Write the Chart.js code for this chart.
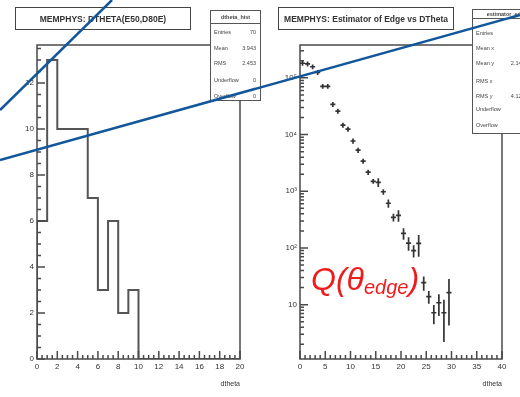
<!DOCTYPE html>
<html>
<head>
<meta charset="utf-8">
<script src="https://cdn.jsdelivr.net/npm/chart.js@4.4.0/dist/chart.umd.min.js"></script>
<style>
  html, body { margin: 0; padding: 0; background: #fff; }
  #page { position: relative; width: 520px; height: 397px; overflow: hidden; background: #fff;
          font-family: "Liberation Sans", Arial, sans-serif; }
  .soft { filter: blur(0.45px); }
  .pad { position: absolute; top: 0; width: 260px; height: 397px; }
  .pad canvas { display: block; }
  .titlebox { position: absolute; border: 1.5px solid #444; background: #fff; box-sizing: border-box;
              font-weight: bold; font-size: 8.5px; color: #333; display: flex; align-items: center;
              justify-content: center; white-space: nowrap; }
  .stats { position: absolute; border: 1.5px solid #555; background: #fff; box-sizing: border-box;
           font-size: 5.5px; color: #444; overflow: hidden; }
  .stats .head { position: absolute; left: 0; right: 0; top: 0; border-bottom: 1.5px solid #555;
                 text-align: center; font-weight: bold; }
  .stats .row { position: absolute; left: 3px; right: 4px; line-height: 6px; }
  .stats .row span:last-child { position: absolute; right: 0; }
  #overlay { position: absolute; left: 0; top: 0; }
</style>
</head>
<body>
<div id="page">
  <div class="pad soft" style="left:0"><canvas id="histPad" width="260" height="397"></canvas></div>
  <div class="pad soft" style="left:260px"><canvas id="estPad" width="260" height="397"></canvas></div>

  <div class="titlebox soft" style="left:15px;top:7px;width:176px;height:23px;">MEMPHYS: DTHETA(E50,D80E)</div>
  <div class="titlebox soft" style="left:278px;top:7px;width:176px;height:23px;">MEMPHYS: Estimator of Edge vs DTheta</div>

  <div class="stats soft" id="histStats" style="left:210px;top:10px;width:51px;height:91px;"></div>
  <div class="stats soft" id="estStats" style="left:472px;top:9px;width:70px;height:125px;"></div>

  <svg id="overlay" width="520" height="397">
    <line x1="0" y1="110" x2="112" y2="0" stroke="#12579b" stroke-width="2.5"/>
    <line x1="0" y1="160" x2="520" y2="15" stroke="#12579b" stroke-width="2.5"/>
    <text x="311" y="290" font-family="Liberation Sans, Arial, sans-serif" font-style="italic"
          font-size="32" fill="#ee1c1c">Q(θ<tspan font-size="20" dy="4">edge</tspan><tspan dy="-4">)</tspan></text>
  </svg>
</div>

<script>
// ---- DTHETA histogram (20 bins of width 1) ----
const histBinEdges = [0, 1, 2, 3, 4, 5, 6, 7, 8, 9, 10, 11, 12, 13, 14, 15, 16, 17, 18, 19];
const histCounts   = [6, 13, 10, 10, 10, 7, 3, 6, 2, 3, 0, 0, 0, 0, 0, 0, 0, 0, 0, 0];
const histXTicks   = [0, 2, 4, 6, 8, 10, 12, 14, 16, 18, 20];
const histYTicks   = [0, 2, 4, 6, 8, 10, 12];
const histStats    = [["Entries", "70"], ["Mean", "3.943"], ["RMS", "2.453"], ["Underflow", "0"], ["Overflow", "0"]];

// ---- Estimator of edges vs dtheta (bin centres, values, errors) ----
const estBinCenters = [0.5, 1.5, 2.5, 3.5, 4.5, 5.5, 6.5, 7.5, 8.5, 9.5,
                       10.5, 11.5, 12.5, 13.5, 14.5, 15.5, 16.5, 17.5, 18.5, 19.5,
                       20.5, 21.5, 22.5, 23.5, 24.5, 25.5, 26.5, 27.5, 28.5, 29.5];
const estValues = [181000, 177000, 157000, 125000, 71000, 71000, 34000, 26000, 14700, 12500,
                   7700, 5300, 3400, 2170, 1500, 1440, 980, 614, 347, 376,
                   181, 122, 90, 120, 24.5, 13.9, 7.2, 10.8, 7.2, 16.3];
const estErrors = [18000, 17500, 15500, 12500, 7000, 7000, 3400, 2600, 1500, 1250,
                   800, 550, 350, 230, 150, 250, 110, 100, 55, 85,
                   42, 33, 22, 50, 7, 3.5, 2.7, 4.5, 5, 12];
const estXTicks = [0, 5, 10, 15, 20, 25, 30, 35, 40];
const estYTicks = [10, 100, 1000, 10000, 100000];
const estStats  = [["Entries", "30"], ["Mean x", "6.732"], ["Mean y", "2.143e+04"], ["RMS x", "5.914"],
                   ["RMS y", "4.127e+04"], ["Underflow", "0"], ["Overflow", "0"]];

const FONT = "'Liberation Sans', Arial, sans-serif";
const INK = '#4a4a4a';

// Frame around the plot area plus inward-pointing tick marks on the bottom and left axes
const rootFrame = {
  id: 'rootFrame',
  afterDatasetsDraw(chart, args, o) {
    const { ctx, chartArea: a, scales: { x, y } } = chart;
    ctx.save();
    ctx.strokeStyle = INK;
    ctx.lineWidth = 1.5;
    ctx.strokeRect(a.left, a.top, a.right - a.left, a.bottom - a.top);
    ctx.beginPath();
    const tick = (axis, v, len) => {
      if (axis === 'x') {
        const px = x.getPixelForValue(v);
        ctx.moveTo(px, a.bottom); ctx.lineTo(px, a.bottom - len);
      } else {
        const py = y.getPixelForValue(v);
        ctx.moveTo(a.left, py); ctx.lineTo(a.left + len, py);
      }
    };
    o.xMajor.forEach(v => tick('x', v, 8));
    o.xMinor.forEach(v => tick('x', v, 4));
    o.yMajor.forEach(v => tick('y', v, 8));
    o.yMinor.forEach(v => tick('y', v, 4));
    ctx.stroke();
    ctx.restore();
  }
};

// Horizontal (bin width) and vertical (error) bars for each estimator point
const errorBars = {
  id: 'errorBars',
  afterDatasetsDraw(chart) {
    const { ctx, scales: { x, y } } = chart;
    ctx.save();
    ctx.strokeStyle = '#333';
    ctx.lineWidth = 1.7;
    ctx.beginPath();
    estBinCenters.forEach((c, i) => {
      const v = estValues[i], e = estErrors[i];
      const py = y.getPixelForValue(v);
      ctx.moveTo(x.getPixelForValue(c - 0.5), py);
      ctx.lineTo(x.getPixelForValue(c + 0.5), py);
      const px = x.getPixelForValue(c);
      ctx.moveTo(px, y.getPixelForValue(v + e));
      ctx.lineTo(px, y.getPixelForValue(Math.max(v - e, y.min)));
    });
    ctx.stroke();
    ctx.restore();
  }
};

function range(a, b, s) { const out = []; for (let v = a; v <= b + 1e-9; v += s) out.push(+v.toFixed(6)); return out; }

function axisCommon(tickValues, fmt) {
  return {
    grid: { display: false, drawTicks: false },
    border: { display: false },
    afterBuildTicks: s => { s.ticks = tickValues.map(v => ({ value: v })); },
    ticks: { autoSkip: false, maxRotation: 0, color: '#333', font: { family: FONT, size: 8 },
             callback: fmt }
  };
}

// Step outline of the histogram: left bin edges with a closing point at the right edge
const histPoints = [{ x: histBinEdges[0], y: 0 }];
histBinEdges.forEach((e, i) => histPoints.push({ x: e, y: histCounts[i] }));
histPoints.push({ x: histBinEdges[histBinEdges.length - 1] + 1, y: histCounts[histCounts.length - 1] });

new Chart(document.getElementById('histPad'), {
  type: 'line',
  data: { datasets: [{ data: histPoints, stepped: true, borderColor: '#555', borderWidth: 2,
                       pointRadius: 0, fill: false }] },
  options: {
    responsive: false, animation: false,
    layout: { padding: { left: 0, right: 20, top: 45, bottom: 0 } },
    plugins: { legend: { display: false }, tooltip: { enabled: false },
      rootFrame: { xMajor: histXTicks, xMinor: range(0, 20, 0.5), yMajor: histYTicks, yMinor: range(0, 13.5, 0.5) } },
    scales: {
      x: Object.assign(axisCommon(histXTicks, v => String(v)), {
        type: 'linear', min: 0, max: 20,
        afterFit: s => { s.height = 38; },
        title: { display: true, text: 'dtheta', align: 'end', color: '#333',
                 font: { family: FONT, size: 7 }, padding: { top: 0, bottom: 9 } }
      }),
      y: Object.assign(axisCommon(histYTicks, v => String(v)), {
        type: 'linear', min: 0, max: 13.65,
        afterFit: s => { s.width = 37; }
      })
    }
  },
  plugins: [rootFrame]
});

// Log-scale minor tick positions 2..9 x each decade
const logMinor = [];
[1, 10, 100, 1000, 10000, 100000].forEach(d => { for (let k = 2; k <= 9; k++) logMinor.push(k * d); });
const sup = { 1: '', 2: '²', 3: '³', 4: '⁴', 5: '⁵' };

new Chart(document.getElementById('estPad'), {
  type: 'scatter',
  data: { datasets: [{ data: estBinCenters.map((c, i) => ({ x: c, y: estValues[i] })),
                       pointRadius: 0, borderColor: '#333' }] },
  options: {
    responsive: false, animation: false,
    layout: { padding: { left: 0, right: 18, top: 45, bottom: 0 } },
    plugins: { legend: { display: false }, tooltip: { enabled: false },
      rootFrame: { xMajor: estXTicks, xMinor: range(0, 40, 1), yMajor: estYTicks,
                   yMinor: logMinor.filter(v => v > 1.1 && v < 380000) } },
    scales: {
      x: Object.assign(axisCommon(estXTicks, v => String(v)), {
        type: 'linear', min: 0, max: 40,
        afterFit: s => { s.height = 38; },
        title: { display: true, text: 'dtheta', align: 'end', color: '#333',
                 font: { family: FONT, size: 7 }, padding: { top: 0, bottom: 9 } }
      }),
      y: Object.assign(axisCommon(estYTicks, v => '10' + sup[Math.round(Math.log10(v))]), {
        type: 'logarithmic', min: 1.1, max: 380000,
        afterFit: s => { s.width = 40; }
      })
    }
  },
  plugins: [rootFrame, errorBars]
});

// Statistics boxes
function fillStats(id, name, rows, headH, rowTops) {
  const box = document.getElementById(id);
  const head = document.createElement('div');
  head.className = 'head';
  head.style.height = headH + 'px';
  head.style.lineHeight = headH + 'px';
  head.textContent = name;
  box.appendChild(head);
  rows.forEach((r, i) => {
    const row = document.createElement('div');
    row.className = 'row';
    row.style.top = rowTops[i] + 'px';
    row.innerHTML = '<span>' + r[0] + '</span><span>' + r[1] + '</span>';
    box.appendChild(row);
  });
}
fillStats('histStats', 'dtheta_hist', histStats, 12, [18, 34, 49, 66, 82]);
fillStats('estStats', 'estimator_edge', estStats, 8, [20, 35, 50, 68, 83, 96, 112]);
</script>
</body>
</html>
